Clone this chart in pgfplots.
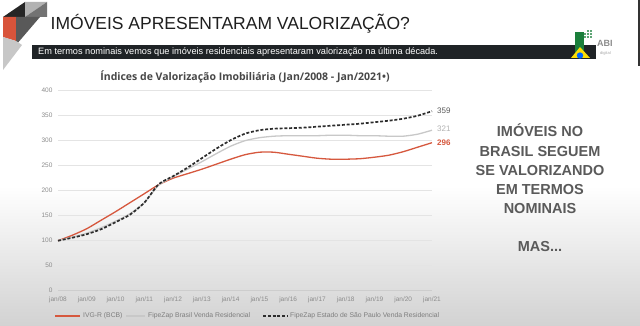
\documentclass[border=0pt]{standalone}
\usepackage{pgfplots}
\pgfplotsset{compat=1.18}
\usepackage{pgfplotstable}
\usepackage{fontspec}
\setmainfont{Liberation Sans}
\newfontfamily\ctfont{Open Sans}
\definecolor{redline}{RGB}{214,88,62}
\definecolor{grayline}{RGB}{200,200,200}
\definecolor{dashline}{RGB}{45,45,45}
\definecolor{ticktext}{RGB}{140,140,140}
\definecolor{legtext}{RGB}{125,125,125}
\definecolor{bannerbg}{RGB}{31,35,38}
\definecolor{sidetext}{RGB}{90,90,90}
\definecolor{logogreen}{RGB}{27,127,59}

\pgfplotstableread{
x y
0 100
0.5 111
1 124
1.5 141
2 158
2.5 176
3 194
3.5 212
4 225
4.5 234
5 243
5.5 253
6 263
6.5 272
7 277
7.5 277
8 273
8.5 269
9 265
9.5 263
10 263
10.5 264
11 267
11.5 271
12 278
12.5 287
13 296
}\ivgr

\pgfplotstableread{
x y
0 100
0.5 107
1 115
1.5 126
2 139
2.5 154
3 176
3.5 211
4 228
4.5 243
5 258
5.5 274
6 289
6.5 300
7 306
7.5 309
8 310
8.5 310
9 310
9.5 311
10 311
10.5 310
11 310
11.5 309
12 309
12.5 313
13 321
}\fzbr

\pgfplotstableread{
x y
0 100
0.5 106
1 113
1.5 123
2 137
2.5 152
3 176
3.5 213
4 229
4.5 246
5 265
5.5 284
6 301
6.5 314
7 321
7.5 324
8 325
8.5 326
9 328
9.5 330
10 332
10.5 334
11 337
11.5 340
12 344
12.5 350
13 359
}\fzsp

\begin{document}
\begin{tikzpicture}
\useasboundingbox (0,0) rectangle (640bp,326bp);
% background
\fill[white] (0,0) rectangle (640bp,326bp);
\shade[top color=white, bottom color={rgb,255:red,210;green,210;blue,210}] (0,0) rectangle (640bp,140bp);
% decorative shapes
\fill[black!85] (3bp,309bp) -- (25bp,324bp) -- (25bp,309bp) -- cycle;
\fill[black!30] (25bp,324bp) -- (47bp,324bp) -- (25bp,309bp) -- cycle;
\fill[black!55] (47bp,324bp) -- (47bp,309bp) -- (25bp,309bp) -- cycle;
\fill[redline!95!red] (3bp,309bp) -- (16bp,309bp) -- (16bp,285bp) -- (3bp,289bp) -- cycle;
\fill[black!65] (16bp,309bp) -- (40bp,309bp) -- (16bp,281bp) -- cycle;
\fill[black!22] (3bp,289bp) -- (16bp,285bp) -- (22bp,281bp) -- (3bp,256bp) -- cycle;
% right border
\fill[black!80] (638bp,326bp) rectangle (640bp,260bp);
% title
\node[anchor=base west, inner sep=0, text=black!88] at (50.5bp,296.5bp) {\fontsize{17.5bp}{20bp}\selectfont IMÓVEIS APRESENTARAM VALORIZAÇÃO?};
% banner
\fill[bannerbg] (32bp,267bp) rectangle (596bp,281bp);
\node[anchor=base west, inner sep=0, text=white] at (38bp,271bp) {\fontsize{9.2bp}{11bp}\selectfont Em termos nominais vemos que imóveis residenciais apresentaram valorização na última década.};
% logo
\fill[logogreen] (575bp,272bp) rectangle (584bp,294bp);
\foreach \dx/\dy in {0/0,3/0,0/3,3/3,6/3,3/6,6/6,6/0}{\fill[logogreen!70] (584bp+\dx bp,288bp+\dy bp) rectangle (586bp+\dx bp,290bp+\dy bp);}
\fill[yellow!80!orange] (571bp,268bp) -- (580bp,279bp) -- (590bp,268bp) -- cycle;
\fill[blue!60!cyan] (580bp,270.5bp) circle (3.2bp);
\node[anchor=base west, inner sep=0, text=black!45] at (597bp,279bp) {\fontsize{9bp}{10bp}\selectfont\bfseries ABI};
\node[anchor=base west, inner sep=0, text=black!35] at (600bp,271bp) {\fontsize{4bp}{5bp}\selectfont digital};
% chart title
\node[anchor=base, inner sep=0, text=black!72] at (245bp,245bp) {\ctfont\bfseries\fontsize{10.5bp}{12bp}\selectfont Índices de Valorização Imobiliária (Jan/2008 - Jan/2021•)};
% side text
\begin{scope}[every node/.style={anchor=base, inner sep=0, text=sidetext, font=\bfseries\fontsize{14.5bp}{17bp}\selectfont}]
\node at (540bp,189.1bp) {IMÓVEIS NO};
\node at (540bp,169.8bp) {BRASIL SEGUEM};
\node at (540bp,150.8bp) {SE VALORIZANDO};
\node at (540bp,131.8bp) {EM TERMOS};
\node at (540bp,112.8bp) {NOMINAIS};
\node at (540bp,74.1bp) {MAS...};
\end{scope}
% legend
\draw[redline, line width=1.5bp] (55bp,10bp) -- (80bp,10bp);
\node[anchor=west, inner sep=0, text=legtext, font=\fontsize{6.8bp}{8bp}\selectfont] at (83bp,10bp) {IVG-R (BCB)};
\draw[grayline, line width=1.3bp] (126bp,10bp) -- (145bp,10bp);
\node[anchor=west, inner sep=0, text=legtext, font=\fontsize{6.8bp}{8bp}\selectfont] at (148bp,10bp) {FipeZap Brasil Venda Residencial};
\draw[dashline, line width=1.7bp, dash pattern=on 3bp off 1.8bp] (263bp,10bp) -- (288bp,10bp);
\node[anchor=west, inner sep=0, text=legtext, font=\fontsize{6.8bp}{8bp}\selectfont] at (290bp,10bp) {FipeZap Estado de São Paulo Venda Residencial};
\begin{axis}[
  at={(58bp,35.3bp)}, anchor=origin,
  scale only axis, width=374bp, height=200bp,
  xmin=0, xmax=13, ymin=0, ymax=400,
  axis line style={draw=none},
  xtick={0,...,13},
  xticklabels={jan/08,jan/09,jan/10,jan/11,jan/12,jan/13,jan/14,jan/15,jan/16,jan/17,jan/18,jan/19,jan/20,jan/21},
  ytick={0,50,...,400},
  ymajorgrids, major grid style={draw={rgb,255:red,228;green,228;blue,228}, line width=0.6bp},
  tick style={draw=none},
  /pgf/number format/assume math mode=true,
  tick label style={font=\fontsize{6.5bp}{7bp}\selectfont, text=ticktext},
  xticklabel style={yshift=-2.5bp},
  yticklabel style={xshift=-2bp},
  clip=false,
]
\draw[draw={rgb,255:red,205;green,205;blue,205}, line width=0.7bp] (axis cs:0,0) -- (axis cs:13,0);
\addplot[draw=redline, line width=1.3bp, smooth, tension=0.4] table {\ivgr};
\addplot[draw=grayline, line width=1.3bp, smooth, tension=0.4] table {\fzbr};
\addplot[draw=dashline, line width=1.7bp, dash pattern=on 3bp off 1.8bp, smooth, tension=0.4] table {\fzsp};
\node[anchor=west, inner sep=0, text=black!65, font=\fontsize{8bp}{9bp}\selectfont] at (axis cs:13,359) [xshift=5bp] {359};
\node[anchor=west, inner sep=0, text=black!30, font=\fontsize{8bp}{9bp}\selectfont] at (axis cs:13,323) [xshift=5bp] {321};
\node[anchor=west, inner sep=0, text=redline, font=\bfseries\fontsize{8bp}{9bp}\selectfont] at (axis cs:13,295) [xshift=5bp] {296};
\end{axis}
\end{tikzpicture}
\end{document}
